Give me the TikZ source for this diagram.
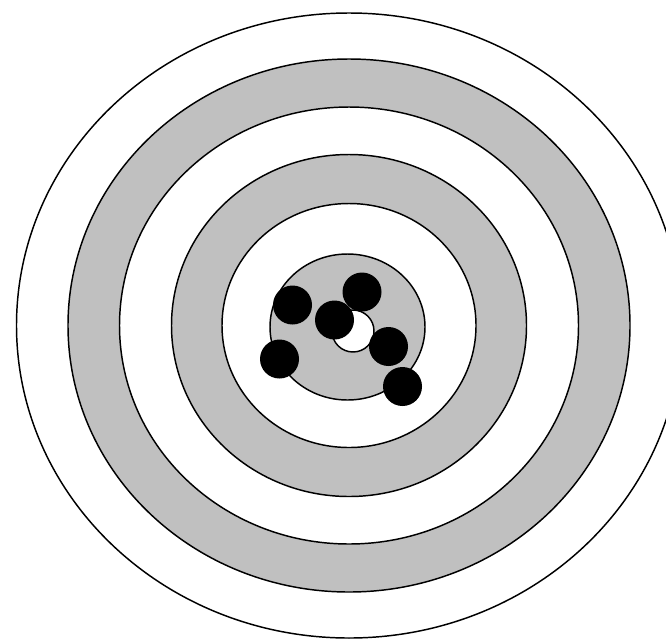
\documentclass[tikz,border=0pt]{standalone}
\definecolor{ringgray}{HTML}{C0C0C0}
\tikzset{
  ringline/.style={draw=black, line width=1.1pt},
  grayfill/.style={ringline, fill=ringgray},
  whitefill/.style={ringline, fill=white},
  hole/.style={fill=black},
}
\begin{document}
\begin{tikzpicture}[x=0.75pt,y=-0.75pt]
\useasboundingbox (0,0) rectangle (666,640);
\begin{scope}
\clip (0,0) rectangle (666,640);
\coordinate (c) at (349,325.5);
\path[whitefill] (c) ellipse [x radius=332.5, y radius=312.5];
\path[grayfill] (c) ellipse [x radius=281, y radius=266.5];
\path[whitefill] (c) ellipse [x radius=229.5, y radius=218.5];
\path[grayfill] (c) ellipse [x radius=177.5, y radius=171];
\path[whitefill] (c) ellipse [x radius=127, y radius=122];
\path[grayfill] (347.5,327) ellipse [x radius=77.5, y radius=73];
\path[whitefill] (353,331) circle [radius=21];
\foreach \p in {(292.5,305),(362,292),(334.5,320),(388.5,346.5),(279.5,359),(402.5,386.5)}
  \fill[hole] \p circle [radius=19.5];
\end{scope}
\end{tikzpicture}
\end{document}
